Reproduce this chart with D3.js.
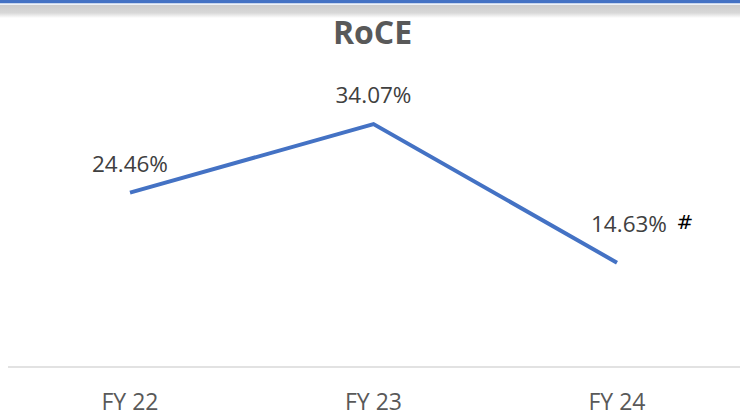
<!DOCTYPE html>
<html><head><meta charset="utf-8">
<script src="https://cdn.jsdelivr.net/npm/d3@7"></script>
<style>body{margin:0;background:#fff}svg{display:block}</style>
</head><body>
<script>
const categories = ["FY 22", "FY 23", "FY 24"];
const values = [24.46, 34.07, 14.63];
const labels = ["24.46%", "34.07%", "14.63%"];
const title = "RoCE";
const footnote = "#";

const W = 740, H = 419;
const svg = d3.select("body").append("svg").attr("width", W).attr("height", H);

// top decoration band
const defs = svg.append("defs");
const g = defs.append("linearGradient").attr("id","gb").attr("x1",0).attr("y1",0).attr("x2",0).attr("y2",1);
g.append("stop").attr("offset","0%").attr("stop-color","#cccccc");
g.append("stop").attr("offset","60%").attr("stop-color","#d8d8d8");
g.append("stop").attr("offset","100%").attr("stop-color","#ffffff");
svg.append("rect").attr("x",0).attr("y",5).attr("width",W).attr("height",13).attr("fill","url(#gb)");
svg.append("rect").attr("x",0).attr("y",0).attr("width",W).attr("height",3.5).attr("fill","#4472C4");
svg.append("rect").attr("x",0).attr("y",3.5).attr("width",W).attr("height",1.5).attr("fill","#eef2f8");

const x = d3.scalePoint().domain(categories).range([130, 617]);
const y = d3.scaleLinear().domain([0, 50]).range([367, 10.5]);

// axis line
svg.append("line").attr("x1",8).attr("x2",W).attr("y1",y(0)).attr("y2",y(0))
  .attr("stroke","#d9d9d9").attr("stroke-width",1.5);

// category labels
svg.selectAll("text.cat").data(categories).join("text").attr("class","cat")
  .attr("x", d => x(d)).attr("y", 410)
  .attr("text-anchor","middle")
  .attr("font-family","'Liberation Sans Narrow','Open Sans',sans-serif")
  .attr("font-size",23).attr("fill","#595959").text(d => d);

// title
svg.append("text").attr("x",372.5).attr("y",44.3).attr("text-anchor","middle")
  .attr("font-family","'Open Sans',sans-serif").attr("font-weight","bold")
  .attr("font-size",32).attr("fill","#595959").text(title);

// line
const line = d3.line().x((d,i) => x(categories[i])).y(d => y(d));
svg.append("path").datum(values).attr("d", line).attr("fill","none")
  .attr("stroke","#4472C4").attr("stroke-width",4).attr("stroke-linejoin","miter");

// data labels
const offs = [[0,-21],[0,-21],[12,-31]];
svg.selectAll("text.val").data(values).join("text").attr("class","val")
  .attr("x",(d,i) => x(categories[i]) + offs[i][0])
  .attr("y",(d,i) => y(d) + offs[i][1])
  .attr("text-anchor","middle")
  .attr("font-family","'Open Sans',sans-serif").attr("font-size",22.5)
  .attr("fill","#404040").text((d,i) => labels[i]);

// footnote marker
svg.append("text").attr("x",685).attr("y",229).attr("text-anchor","middle")
  .attr("font-family","'DejaVu Sans',sans-serif").attr("font-size",20)
  .attr("fill","#000").text(footnote);
</script>
</body></html>
